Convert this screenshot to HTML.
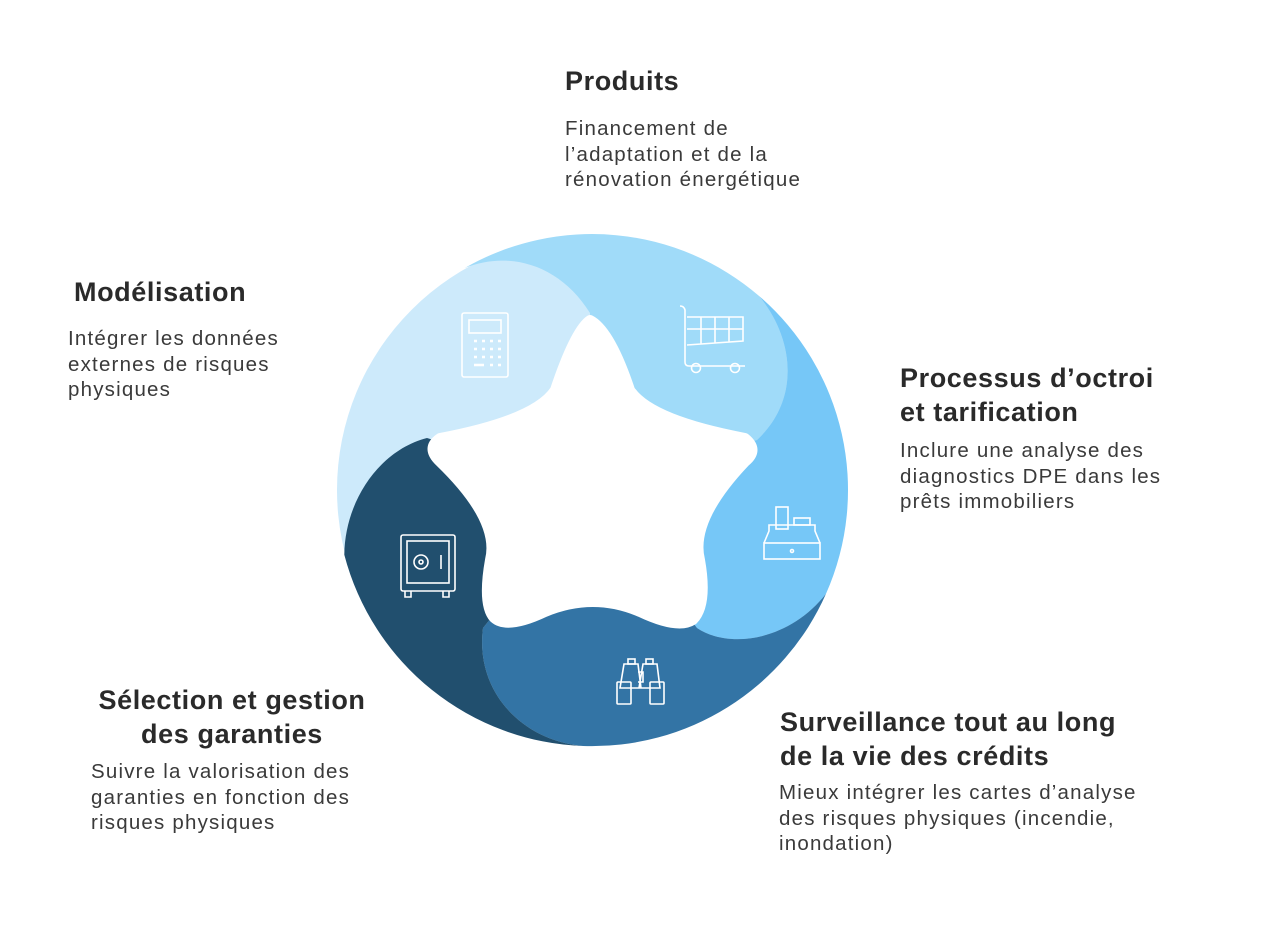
<!DOCTYPE html>
<html><head><meta charset="utf-8"><style>
body{margin:0;width:1284px;height:934px;background:#fff;position:relative;overflow:hidden;font-family:"Liberation Sans",sans-serif;color:#2a2a2a}
.h{position:absolute;font-weight:bold;font-size:27px;line-height:34px;letter-spacing:0.6px;white-space:nowrap}
.b{position:absolute;font-size:20.5px;line-height:25.5px;letter-spacing:1.2px;color:#3a3a3a;white-space:nowrap}
</style></head><body>
<svg width="1284" height="934" style="position:absolute;left:0;top:0">
<circle cx="592" cy="490" r="255" fill="#cdeafb"/>
<path d="M464.7,268 A256,256 0 0 1 759.1,296 C795,340 800,400 757,440 L594,490 L590,313 C560,265 510,250 464.7,268Z" fill="#a0dbf9"/>
<path d="M759.1,296 A256,256 0 0 1 826,593.8 C790,640 730,650 697,628 L594,490 L757,440 C800,400 795,340 759.1,296Z" fill="#76c7f7"/>
<path d="M826,593.8 A256,256 0 0 1 583,746 C520,740 475,690 483,628 L594,490 L697,628 C730,650 790,640 826,593.8Z" fill="#3374a5"/>
<path d="M583,746 A256,256 0 0 1 344.3,554.7 C345,500 380,450 427,438 L594,490 L483,628 C475,690 520,740 583,746Z" fill="#214f6e"/>
<path d="M590,320 Q610,330 630,390 Q650,420 745,438 Q760,450 745,462 Q690,520 700,560 Q708,605 693,620 Q678,630 640,612 Q593,592 545,612 Q507,630 494,618 Q482,605 490,560 Q500,520 440,462 Q425,448 440,438 Q535,420 555,390 Q575,330 590,320Z" fill="#fff" stroke="#fff" stroke-width="10" stroke-linejoin="round"/>
<g fill="none" stroke="#fff" stroke-width="1.6">
<rect x="462" y="313" width="46" height="64" rx="2"/>
<rect x="469" y="320" width="32" height="13"/>
<g stroke-width="2.5"><path d="M474,341h3M482,341h3M490,341h3M498,341h3M474,349h3M482,349h3M490,349h3M498,349h3M474,357h3M482,357h3M490,357h3M498,357h3M474,365h10M490,365h3M498,365h3"/></g>
<path d="M680,306 q4,0 5,4 v52 q0,4 4,4 h56"/>
<path d="M687,317 h56 v24 l-56,4 M687,329 h56 M701,317 v27 M715,317 v26 M729,317 v25"/>
<circle cx="696" cy="368" r="4.5"/><circle cx="735" cy="368" r="4.5"/>
<rect x="764" y="543" width="56" height="16"/>
<path d="M764,543 l5,-12 v-6 h46 v6 l5,12"/>
<rect x="776" y="507" width="12" height="22"/>
<rect x="794" y="518" width="16" height="7"/>
<circle cx="792" cy="551" r="1.5"/>
<rect x="401" y="535" width="54" height="56" rx="2"/>
<rect x="407" y="541" width="42" height="42"/>
<circle cx="421" cy="562" r="7"/><circle cx="421" cy="562" r="2"/>
<path d="M441,555 v14 M405,591 v6 h6 v-6 M443,591 v6 h6 v-6"/>
<rect x="628" y="659" width="7" height="5"/><rect x="646" y="659" width="7" height="5"/>
<path d="M624,664 h14 l3,24 h-21z M643,664 h14 l3,24 h-21z M638,672 h5 v10 h-5"/>
<rect x="617" y="682" width="14" height="22" rx="1"/><rect x="650" y="682" width="14" height="22" rx="1"/>
</g>
</svg>
<div class="h" style="left:565px;top:64px">Produits</div>
<div class="b" style="left:565px;top:116px">Financement de<br>l’adaptation et de la<br>rénovation énergétique</div>
<div class="h" style="left:74px;top:275px">Modélisation</div>
<div class="b" style="left:68px;top:326px">Intégrer les données<br>externes de risques<br>physiques</div>
<div class="h" style="left:900px;top:361px">Processus d’octroi<br>et tarification</div>
<div class="b" style="left:900px;top:438px">Inclure une analyse des<br>diagnostics DPE dans les<br>prêts immobiliers</div>
<div class="h" style="left:82px;top:683px;width:300px;text-align:center">Sélection et gestion<br>des garanties</div>
<div class="b" style="left:91px;top:759px">Suivre la valorisation des<br>garanties en fonction des<br>risques physiques</div>
<div class="h" style="left:780px;top:705px">Surveillance tout au long<br>de la vie des crédits</div>
<div class="b" style="left:779px;top:780px">Mieux intégrer les cartes d’analyse<br>des risques physiques (incendie,<br>inondation)</div>
</body></html>
